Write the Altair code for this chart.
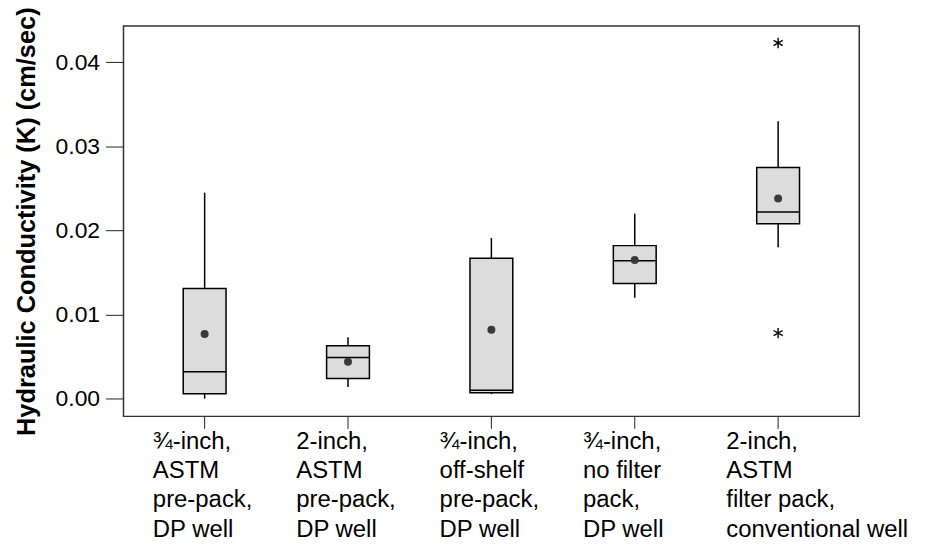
import altair as alt
import pandas as pd

categories = [
    "¾-inch,|ASTM|pre-pack,|DP well",
    "2-inch,|ASTM|pre-pack,|DP well",
    "¾-inch,|off-shelf|pre-pack,|DP well",
    "¾-inch,|no filter|pack,|DP well",
    "2-inch,|ASTM|filter pack,|conventional well",
]
whisker_low = [0.0000, 0.0014, 0.00055, 0.0120, 0.0180]
q1 = [0.0006, 0.0024, 0.0007, 0.0137, 0.0208]
median = [0.0032, 0.0049, 0.0010, 0.0164, 0.0222]
q3 = [0.0131, 0.0063, 0.0167, 0.0182, 0.0275]
whisker_high = [0.0245, 0.0073, 0.0191, 0.0220, 0.0330]
mean = [0.0077, 0.0044, 0.0082, 0.0165, 0.0238]
outlier_cat = [categories[4], categories[4]]
outlier_val = [0.0423, 0.0078]
y_ticks = [0.0, 0.01, 0.02, 0.03, 0.04]

box_df = pd.DataFrame({
    "cat": categories, "lo": whisker_low, "q1": q1, "med": median,
    "q3": q3, "hi": whisker_high, "mean": mean,
})
out_df = pd.DataFrame({"cat": outlier_cat, "value": outlier_val})

x_enc = alt.X(
    "cat:N", sort=categories,
    scale=alt.Scale(paddingInner=0, paddingOuter=0.066),
    axis=alt.Axis(
        title=None, labelAngle=0, labelAlign="left", labelOffset=-52,
        labelBaseline="top", labelFontSize=24, labelLineHeight=29.5,
        labelExpr="split(datum.value, '|')", tickSize=12, labelPadding=1,
        domain=False, labelColor="black", tickColor="#222", labelFont="Liberation Sans",
        labelLimit=400,
    ),
)
y_scale = alt.Scale(domain=[-0.0021, 0.0443], nice=False, zero=False)
y_axis = alt.Axis(
    title="Hydraulic Conductivity (K) (cm/sec)", values=y_ticks, format=".2f",
    labelFontSize=23, tickSize=18, labelPadding=6, domain=False, grid=False,
    titleFontSize=25.5, titleFontWeight="bold", titleX=-97, titleY=196,
    titleBaseline="middle", labelColor="black", titleColor="black",
    tickColor="#222", labelFont="Liberation Sans", titleFont="Liberation Sans",
    titleLimit=600,
)

base = alt.Chart(box_df)

whisk = base.mark_rule(color="black", strokeWidth=1.5).encode(
    x=x_enc, y=alt.Y("lo:Q", scale=y_scale, axis=y_axis), y2="hi:Q"
)
box = base.mark_bar(size=43, color="#dcdcdc", stroke="black", strokeWidth=1.5).encode(
    x=x_enc, y="q1:Q", y2="q3:Q"
)
med = base.mark_tick(size=43, thickness=1.5, color="black", opacity=1, orient="horizontal").encode(
    x=x_enc, y="med:Q"
)
mn = base.mark_point(shape="circle", filled=True, size=64, color="#3a3a3a", opacity=1).encode(
    x=x_enc, y="mean:Q"
)
outl = alt.Chart(out_df).mark_point(
    shape="M0,-1L0,1M-0.866,-0.5L0.866,0.5M-0.866,0.5L0.866,-0.5",
    filled=False, stroke="black", strokeWidth=1.4, size=110, opacity=1,
).encode(x=x_enc, y="value:Q")

chart = alt.layer(whisk, box, med, mn, outl).properties(
    width=739, height=392,
    autosize=alt.AutoSizeParams(type="none"),
    padding={"left": 116, "top": 17, "right": 60, "bottom": 124},
).configure(font="Liberation Sans").configure_view(stroke="#333", strokeWidth=1.5)

chart.save("out.html", embed_options={"renderer": "svg", "actions": False})
